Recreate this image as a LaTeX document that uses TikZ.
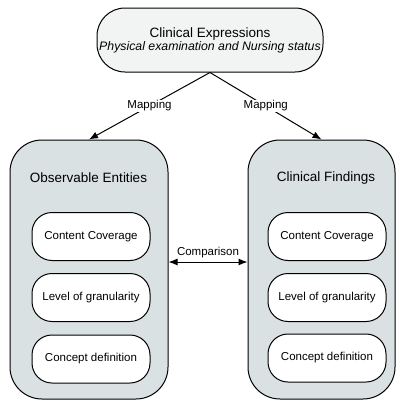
\documentclass[tikz,border=0pt]{standalone}
\usepackage{fontspec}
\setmainfont{Liberation Sans}
\usetikzlibrary{arrows.meta}
\definecolor{topgray}{HTML}{F2F4F4}
\definecolor{boxgray}{HTML}{D9E1E3}
\tikzset{>={Latex[length=9pt,width=7pt]}}
\tikzset{
  groupbox/.style = {draw, fill=boxgray, rounded corners=32pt, minimum height=259pt},
  itembox/.style = {draw, fill=white, rounded corners=20pt, minimum width=118pt,
    minimum height=48pt, font=\fontsize{11.5}{13}\selectfont},
  grouptitle/.style = {font=\fontsize{13.5}{16}\selectfont},
  linklabel/.style = {fill=white, inner sep=1pt, font=\fontsize{11.5}{13}\selectfont}
}

\begin{document}
\begin{tikzpicture}[x=1pt,y=-1pt,line width=1pt]
  \useasboundingbox (0,0) rectangle (397,402);
  % source expressions
  \node[draw, fill=topgray, rounded corners=28pt, minimum width=226pt, minimum height=64pt,
    align=center, inner sep=0pt] (expr) at (210,40)
    {{\fontsize{13.5}{16}\selectfont Clinical Expressions}\\[1pt]
     {\fontsize{12.3}{15}\selectfont\itshape Physical examination and Nursing status}};
  % the two hierarchies
  \node[groupbox, minimum width=158pt] (obs) at (89,269.5) {};
  \node[groupbox, minimum width=147pt] (find) at (321.5,269.5) {};
  \node[grouptitle] (obstitle) at (88.5,178) {Observable Entities};
  \node[grouptitle] (findtitle) at (326,178) {Clinical Findings};
  \node[itembox] (obscov) at (91,236.5) {Content Coverage};
  \node[itembox] (obsgran) at (91,297.5) {Level of granularity};
  \node[itembox] (obsdef) at (91,359) {Concept definition};
  \node[itembox] (findcov) at (327,236.5) {Content Coverage};
  \node[itembox] (findgran) at (327,297.5) {Level of granularity};
  \node[itembox] (finddef) at (327,358) {Concept definition};
  % links
  \draw[->] (expr.south) -- node[linklabel] {Mapping} (obs.north);
  \draw[->] (expr.south) -- node[linklabel] {Mapping} (find.north);
  \draw[<->] ([yshift=7.5pt]obs.east) -- node[above, font=\fontsize{11.5}{13}\selectfont]
    {Comparison} ([yshift=7.5pt]find.west);
\end{tikzpicture}
\end{document}
